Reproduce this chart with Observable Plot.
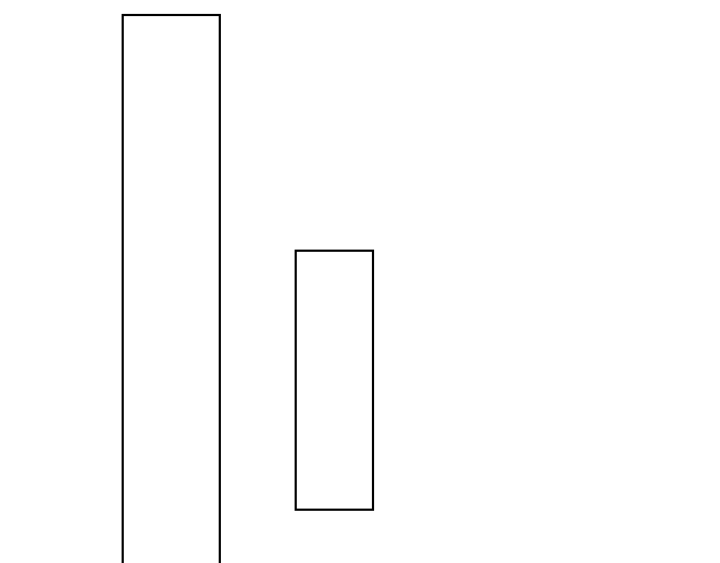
<!DOCTYPE html>
<html>
<head>
<meta charset="utf-8">
<script src="https://cdn.jsdelivr.net/npm/d3@7"></script>
<script src="https://cdn.jsdelivr.net/npm/@observablehq/plot@0.6"></script>
<style>
  html, body { margin: 0; padding: 0; background: #fff; }
</style>
</head>
<body>
<div id="chart"></div>
<script>
// Rectangle extents (in chart units, mapped 1:1 onto the canvas)
const rectNames = ["A", "B"];
const rectLeft = [122.7, 295.7];
const rectRight = [219.8, 373.0];
const rectTop = [15.0, 250.7];
const rectBottom = [600, 509.7];

const rectData = rectNames.map((n, i) => ({ name: n, x1: rectLeft[i], x2: rectRight[i], y1: rectTop[i], y2: rectBottom[i] }));

const chart = Plot.plot({
  width: 720,
  height: 563,
  margin: 0,
  x: { domain: [0, 720], range: [0, 720], axis: null },
  y: { domain: [0, 563], range: [0, 563], axis: null },
  marks: [
    Plot.rect(rectData, { x1: "x1", x2: "x2", y1: "y1", y2: "y2", fill: "none", stroke: "black", strokeWidth: 2.2 })
  ]
});
document.getElementById("chart").appendChild(chart);
</script>
</body>
</html>
